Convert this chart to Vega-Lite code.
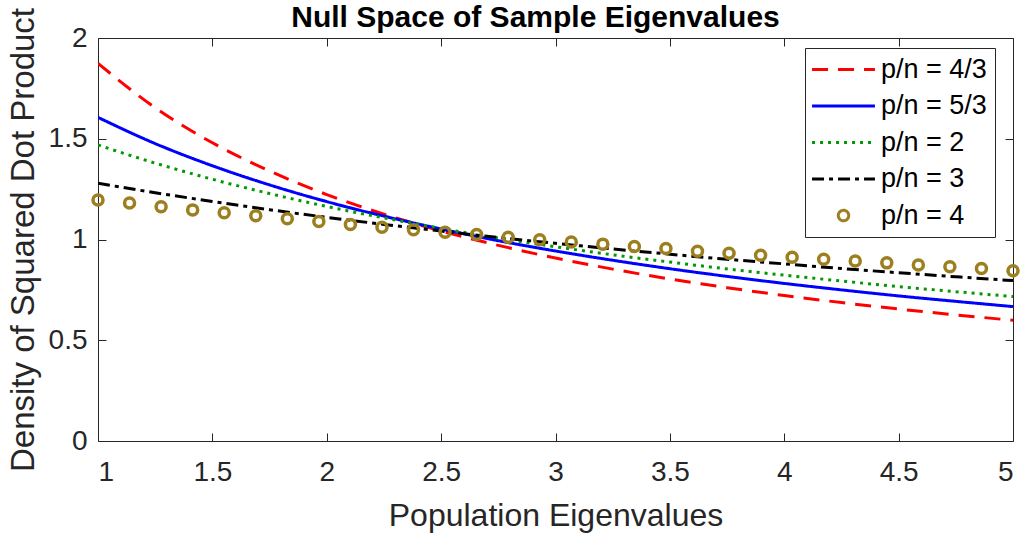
{
  "$schema": "https://vega.github.io/schema/vega-lite/v6.json",
  "width": 915,
  "height": 403,
  "autosize": {"type": "none"},
  "padding": {"left": 98, "top": 38, "right": 9, "bottom": 93},
  "background": "white",
  "config": {
    "view": {"stroke": "#262626", "strokeWidth": 1},
    "axis": {"labelFont": "Liberation Sans", "labelFontSize": 28, "labelColor": "#262626", "titleFont": "Liberation Sans", "titleFontSize": 32, "titleFontWeight": "normal", "titleColor": "#262626", "domain": false, "grid": false, "tickColor": "#262626", "tickSize": -8, "tickWidth": 1},
    "legend": {"labelFont": "Liberation Sans", "labelFontSize": 27, "labelColor": "#000000", "strokeColor": "#262626", "fillColor": "white", "padding": 8, "symbolStrokeWidth": 3, "symbolSize": 110, "symbolOffset": 17, "labelOffset": 24, "rowPadding": 8.5}
  },
  "datasets": {
    "lines": [
      {"series": "p/n = 4/3", "x": 1, "y": 1.874},
      {"series": "p/n = 4/3", "x": 1.25, "y": 1.654},
      {"series": "p/n = 4/3", "x": 1.5, "y": 1.48},
      {"series": "p/n = 4/3", "x": 1.75, "y": 1.34},
      {"series": "p/n = 4/3", "x": 2, "y": 1.223},
      {"series": "p/n = 4/3", "x": 2.25, "y": 1.126},
      {"series": "p/n = 4/3", "x": 2.5, "y": 1.042},
      {"series": "p/n = 4/3", "x": 2.75, "y": 0.971},
      {"series": "p/n = 4/3", "x": 3, "y": 0.908},
      {"series": "p/n = 4/3", "x": 3.25, "y": 0.853},
      {"series": "p/n = 4/3", "x": 3.5, "y": 0.804},
      {"series": "p/n = 4/3", "x": 3.75, "y": 0.761},
      {"series": "p/n = 4/3", "x": 4, "y": 0.722},
      {"series": "p/n = 4/3", "x": 4.25, "y": 0.687},
      {"series": "p/n = 4/3", "x": 4.5, "y": 0.655},
      {"series": "p/n = 4/3", "x": 4.75, "y": 0.626},
      {"series": "p/n = 4/3", "x": 5, "y": 0.599},
      {"series": "p/n = 5/3", "x": 1, "y": 1.606},
      {"series": "p/n = 5/3", "x": 1.25, "y": 1.476},
      {"series": "p/n = 5/3", "x": 1.5, "y": 1.366},
      {"series": "p/n = 5/3", "x": 1.75, "y": 1.271},
      {"series": "p/n = 5/3", "x": 2, "y": 1.188},
      {"series": "p/n = 5/3", "x": 2.25, "y": 1.116},
      {"series": "p/n = 5/3", "x": 2.5, "y": 1.052},
      {"series": "p/n = 5/3", "x": 2.75, "y": 0.994},
      {"series": "p/n = 5/3", "x": 3, "y": 0.943},
      {"series": "p/n = 5/3", "x": 3.25, "y": 0.897},
      {"series": "p/n = 5/3", "x": 3.5, "y": 0.855},
      {"series": "p/n = 5/3", "x": 3.75, "y": 0.817},
      {"series": "p/n = 5/3", "x": 4, "y": 0.782},
      {"series": "p/n = 5/3", "x": 4.25, "y": 0.75},
      {"series": "p/n = 5/3", "x": 4.5, "y": 0.72},
      {"series": "p/n = 5/3", "x": 4.75, "y": 0.693},
      {"series": "p/n = 5/3", "x": 5, "y": 0.667},
      {"series": "p/n = 2", "x": 1, "y": 1.469},
      {"series": "p/n = 2", "x": 1.25, "y": 1.379},
      {"series": "p/n = 2", "x": 1.5, "y": 1.299},
      {"series": "p/n = 2", "x": 1.75, "y": 1.228},
      {"series": "p/n = 2", "x": 2, "y": 1.164},
      {"series": "p/n = 2", "x": 2.25, "y": 1.107},
      {"series": "p/n = 2", "x": 2.5, "y": 1.055},
      {"series": "p/n = 2", "x": 2.75, "y": 1.007},
      {"series": "p/n = 2", "x": 3, "y": 0.964},
      {"series": "p/n = 2", "x": 3.25, "y": 0.924},
      {"series": "p/n = 2", "x": 3.5, "y": 0.888},
      {"series": "p/n = 2", "x": 3.75, "y": 0.854},
      {"series": "p/n = 2", "x": 4, "y": 0.823},
      {"series": "p/n = 2", "x": 4.25, "y": 0.794},
      {"series": "p/n = 2", "x": 4.5, "y": 0.766},
      {"series": "p/n = 2", "x": 4.75, "y": 0.741},
      {"series": "p/n = 2", "x": 5, "y": 0.717},
      {"series": "p/n = 3", "x": 1, "y": 1.279},
      {"series": "p/n = 3", "x": 1.25, "y": 1.232},
      {"series": "p/n = 3", "x": 1.5, "y": 1.189},
      {"series": "p/n = 3", "x": 1.75, "y": 1.148},
      {"series": "p/n = 3", "x": 2, "y": 1.11},
      {"series": "p/n = 3", "x": 2.25, "y": 1.075},
      {"series": "p/n = 3", "x": 2.5, "y": 1.042},
      {"series": "p/n = 3", "x": 2.75, "y": 1.01},
      {"series": "p/n = 3", "x": 3, "y": 0.981},
      {"series": "p/n = 3", "x": 3.25, "y": 0.953},
      {"series": "p/n = 3", "x": 3.5, "y": 0.927},
      {"series": "p/n = 3", "x": 3.75, "y": 0.902},
      {"series": "p/n = 3", "x": 4, "y": 0.879},
      {"series": "p/n = 3", "x": 4.25, "y": 0.856},
      {"series": "p/n = 3", "x": 4.5, "y": 0.835},
      {"series": "p/n = 3", "x": 4.75, "y": 0.815},
      {"series": "p/n = 3", "x": 5, "y": 0.796}
    ],
    "points": [
      {"series": "p/n = 4", "x": 1, "y": 1.196},
      {"series": "p/n = 4", "x": 1.1379, "y": 1.181},
      {"series": "p/n = 4", "x": 1.2759, "y": 1.163},
      {"series": "p/n = 4", "x": 1.4138, "y": 1.147},
      {"series": "p/n = 4", "x": 1.5517, "y": 1.133},
      {"series": "p/n = 4", "x": 1.6897, "y": 1.118},
      {"series": "p/n = 4", "x": 1.8276, "y": 1.103},
      {"series": "p/n = 4", "x": 1.9655, "y": 1.089},
      {"series": "p/n = 4", "x": 2.1034, "y": 1.075},
      {"series": "p/n = 4", "x": 2.2414, "y": 1.061},
      {"series": "p/n = 4", "x": 2.3793, "y": 1.049},
      {"series": "p/n = 4", "x": 2.5172, "y": 1.036},
      {"series": "p/n = 4", "x": 2.6552, "y": 1.025},
      {"series": "p/n = 4", "x": 2.7931, "y": 1.011},
      {"series": "p/n = 4", "x": 2.931, "y": 0.999},
      {"series": "p/n = 4", "x": 3.069, "y": 0.988},
      {"series": "p/n = 4", "x": 3.2069, "y": 0.977},
      {"series": "p/n = 4", "x": 3.3448, "y": 0.965},
      {"series": "p/n = 4", "x": 3.4828, "y": 0.955},
      {"series": "p/n = 4", "x": 3.6207, "y": 0.942},
      {"series": "p/n = 4", "x": 3.7586, "y": 0.932},
      {"series": "p/n = 4", "x": 3.8966, "y": 0.922},
      {"series": "p/n = 4", "x": 4.0345, "y": 0.912},
      {"series": "p/n = 4", "x": 4.1724, "y": 0.902},
      {"series": "p/n = 4", "x": 4.3103, "y": 0.893},
      {"series": "p/n = 4", "x": 4.4483, "y": 0.884},
      {"series": "p/n = 4", "x": 4.5862, "y": 0.873},
      {"series": "p/n = 4", "x": 4.7241, "y": 0.865},
      {"series": "p/n = 4", "x": 4.8621, "y": 0.856},
      {"series": "p/n = 4", "x": 5, "y": 0.845}
    ]
  },
  "layer": [
    {
      "data": {"name": "lines"},
      "mark": {"type": "line", "strokeWidth": 3, "interpolate": "monotone", "clip": true},
      "encoding": {
        "x": {"field": "x", "type": "quantitative", "scale": {"domain": [1, 5], "nice": false, "zero": false},
              "axis": {"orient": "bottom", "values": [1, 1.5, 2, 2.5, 3, 3.5, 4, 4.5, 5], "format": "~g", "title": "Population Eigenvalues", "labelPadding": 25, "titlePadding": 14}},
        "y": {"field": "y", "type": "quantitative", "scale": {"domain": [0, 2], "nice": false, "zero": true},
              "axis": {"orient": "left", "values": [0, 0.5, 1, 1.5, 2], "format": "~g", "title": "Density of Squared Dot Product", "titleFontSize": 33, "labelPadding": 19, "titlePadding": 8}},
        "color": {"field": "series", "type": "nominal",
                  "scale": {"domain": ["p/n = 4/3", "p/n = 5/3", "p/n = 2", "p/n = 3", "p/n = 4"], "range": ["#FF0000", "#0000FF", "#009A00", "#000000", "#9C7F1E"]},
                  "legend": {"title": null, "orient": "none", "legendX": 707, "legendY": 10}},
        "strokeDash": {"field": "series", "type": "nominal",
                  "scale": {"domain": ["p/n = 4/3", "p/n = 5/3", "p/n = 2", "p/n = 3", "p/n = 4"], "range": [[16, 10], [1, 0], [3, 5], [12, 5, 4, 5], [1, 0]]},
                  "legend": {"title": null, "orient": "none", "legendX": 707, "legendY": 10}}
      }
    },
    {
      "data": {"name": "points"},
      "mark": {"type": "point", "filled": false, "strokeWidth": 3.5, "opacity": 1, "size": 100},
      "encoding": {
        "x": {"field": "x", "type": "quantitative", "scale": {"domain": [1, 5], "nice": false, "zero": false},
              "axis": {"orient": "top", "values": [1, 1.5, 2, 2.5, 3, 3.5, 4, 4.5, 5], "labels": false, "title": "Null Space of Sample Eigenvalues", "titleFontSize": 30, "titleFontWeight": "bold", "titleColor": "#000000", "titleBaseline": "alphabetic", "titlePadding": 11, "titleX": 437, "titleAnchor": "middle"}},
        "y": {"field": "y", "type": "quantitative", "scale": {"domain": [0, 2], "nice": false, "zero": true},
              "axis": {"orient": "right", "values": [0, 0.5, 1, 1.5, 2], "labels": false, "title": null}},
        "color": {"field": "series", "type": "nominal",
                  "scale": {"domain": ["p/n = 4/3", "p/n = 5/3", "p/n = 2", "p/n = 3", "p/n = 4"], "range": ["#FF0000", "#0000FF", "#009A00", "#000000", "#9C7F1E"]},
                  "legend": {"title": null, "orient": "none", "legendX": 707, "legendY": 10}},
        "shape": {"field": "series", "type": "nominal",
                  "scale": {"domain": ["p/n = 4/3", "p/n = 5/3", "p/n = 2", "p/n = 3", "p/n = 4"], "range": ["M-6,0L6,0", "M-6,0L6,0", "M-6,0L6,0", "M-6,0L6,0", "circle"]},
                  "legend": {"title": null, "orient": "none", "legendX": 707, "legendY": 10}}
      }
    }
  ],
  "resolve": {"axis": {"x": "independent", "y": "independent"}}
}
